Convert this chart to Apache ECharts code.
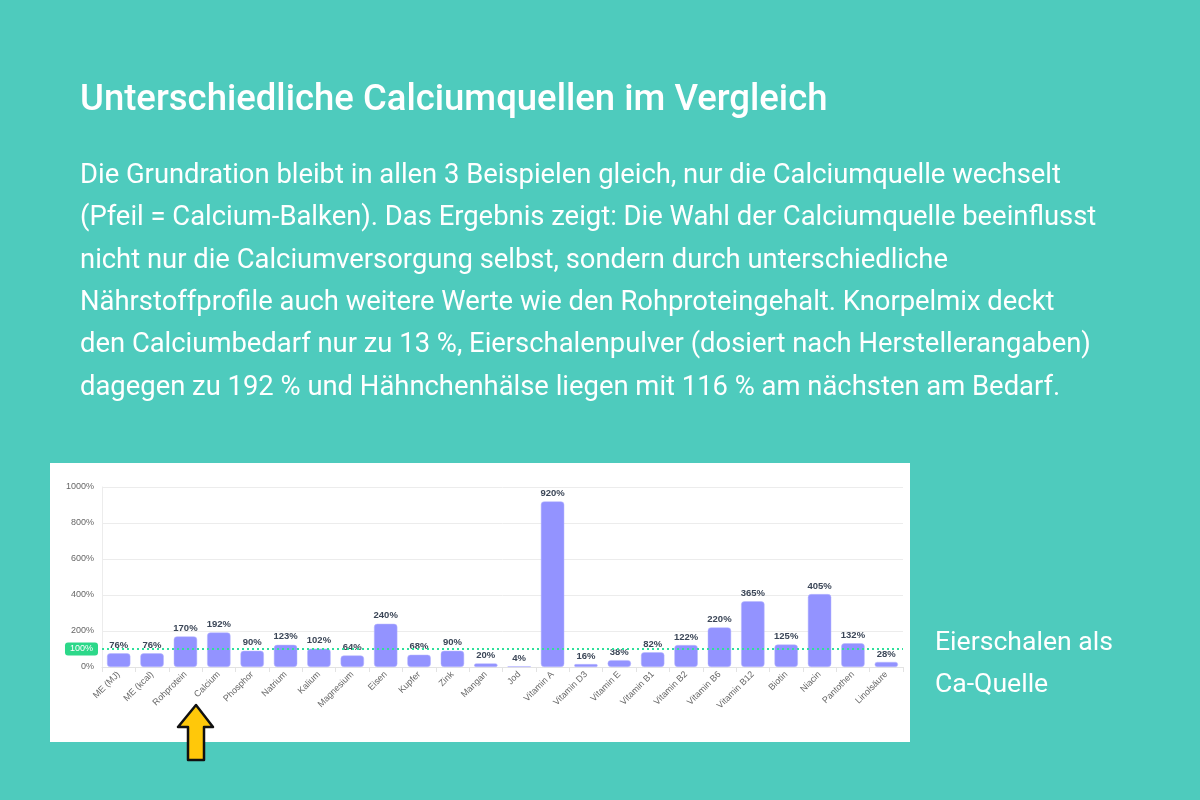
<!DOCTYPE html>
<html>
<head>
<meta charset="utf-8">
<script src="https://cdn.jsdelivr.net/npm/echarts@6/dist/echarts.min.js"></script>
<style>
html,body{margin:0;padding:0;background:#4ECBBD;}
#c{width:1200px;height:800px;}
</style>
</head>
<body>
<div id="c"></div>
<script>
const titleText = "Unterschiedliche Calciumquellen im Vergleich";
const bodyLines = [
  "Die Grundration bleibt in allen 3 Beispielen gleich, nur die Calciumquelle wechselt",
  "(Pfeil = Calcium-Balken). Das Ergebnis zeigt: Die Wahl der Calciumquelle beeinflusst",
  "nicht nur die Calciumversorgung selbst, sondern durch unterschiedliche",
  "Nährstoffprofile auch weitere Werte wie den Rohproteingehalt. Knorpelmix deckt",
  "den Calciumbedarf nur zu 13 %, Eierschalenpulver (dosiert nach Herstellerangaben)",
  "dagegen zu 192 % und Hähnchenhälse liegen mit 116 % am nächsten am Bedarf."
];
const sideLines = ["Eierschalen als", "Ca-Quelle"];

const categories = ["ME (MJ)","ME (kcal)","Rohprotein","Calcium","Phosphor","Natrium","Kalium","Magnesium","Eisen","Kupfer","Zink","Mangan","Jod","Vitamin A","Vitamin D3","Vitamin E","Vitamin B1","Vitamin B2","Vitamin B6","Vitamin B12","Biotin","Niacin","Pantothen","Linolsäure"];
const values = [76,76,170,192,90,123,102,64,240,68,90,20,4,920,16,38,82,122,220,365,125,405,132,28];
const yTicks = [0,200,400,600,800,1000];
const refLine = 100;

const FONT = 'Roboto';
const LBL = '"Liberation Sans", Arial, sans-serif';
const chart = echarts.init(document.getElementById('c'), null, {renderer:'canvas'});

const graphics = [];
graphics.push({type:'rect', shape:{x:50,y:463,width:860,height:279}, style:{fill:'#ffffff'}, z:-10});
graphics.push({type:'text', x:80, y:101, style:{text:titleText, fill:'#ffffff', font:'500 36.5px '+FONT, textVerticalAlign:'middle'}});
bodyLines.forEach((t,i)=>{
  graphics.push({type:'text', x:80, y:176 + i*42.4, style:{text:t, fill:'#ffffff', font:'400 27.4px '+FONT, textVerticalAlign:'middle'}});
});
sideLines.forEach((t,i)=>{
  graphics.push({type:'text', x:935, y:643 + i*42, style:{text:t, fill:'#ffffff', font:'400 26.6px '+FONT, textVerticalAlign:'middle'}});
});
graphics.push({type:'polygon', z:100, shape:{points:[[196,705],[213,727],[204,727],[204,760],[188,760],[188,727],[178,727]]},
  style:{fill:'#FFC80A', stroke:'#111111', lineWidth:2.5, lineJoin:'round'}});

chart.setOption({
  backgroundColor:'#4ECBBD',
  animation:false,
  textStyle:{fontFamily:LBL},
  graphic: graphics,
  grid:{left:102, right:297, top:487, bottom:133, containLabel:false},
  xAxis:{
    type:'category', data:categories,
    axisLine:{show:true, lineStyle:{color:'#e3e3e3'}},
    axisTick:{show:true, lineStyle:{color:'#e3e3e3'}, length:5},
    axisLabel:{rotate:45, fontSize:9, color:'#666666', interval:0, margin:6, fontFamily:LBL}
  },
  yAxis:{
    type:'value', min:yTicks[0], max:yTicks[yTicks.length-1], interval:yTicks[1]-yTicks[0],
    axisLine:{show:true, lineStyle:{color:'#ececec'}},
    axisTick:{show:false},
    splitLine:{lineStyle:{color:'#ececec', width:1}},
    axisLabel:{fontSize:9, color:'#666666', margin:8, formatter:(v)=>v+'%', fontFamily:LBL}
  },
  series:[{
    type:'bar', data:values, barWidth:'70%',
    itemStyle:{color:'#9393FF', borderRadius:3, borderColor:'#b9b9ff', borderWidth:0.5},
    label:{show:true, position:'top', formatter:'{c}%', fontSize:9.5, fontWeight:'bold', color:'#3b4657', distance:3, fontFamily:LBL},
    markLine:{
      silent:true, symbol:'none',
      lineStyle:{color:'#2EE09A', type:[2,3], width:2},
      label:{show:true, position:'start', formatter:'100%', color:'#ffffff', backgroundColor:'#2CD889', borderRadius:3, padding:[2,5], fontSize:9, distance:4, fontFamily:LBL},
      data:[{yAxis:refLine}]
    }
  }]
});
</script>
</body>
</html>
